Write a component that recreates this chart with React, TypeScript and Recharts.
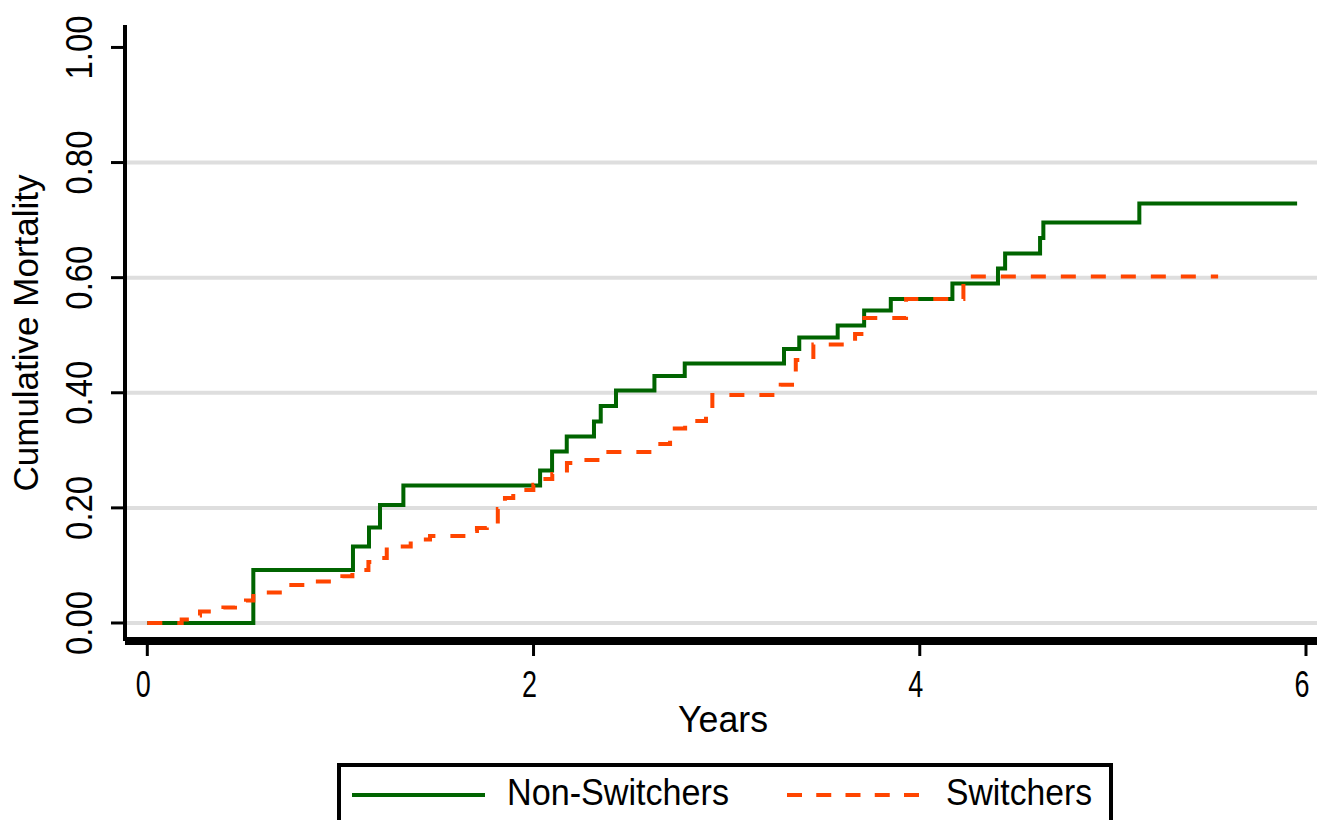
import { LineChart, Line, XAxis, YAxis, CartesianGrid } from "recharts"

const FONT = "'Liberation Sans', Arial, sans-serif"
const GREEN = "#006400"
const ORANGE = "#ff4500"

// Non-Switchers: step times (years) and cumulative mortality
const nonSwitchersYears = [
  0, 0.549, 1.065, 1.148, 1.205, 1.326, 2.034, 2.096, 2.172, 2.313, 2.348, 2.427, 2.626,
  2.783, 3.297, 3.376, 3.575, 3.712, 3.85, 4.169, 4.405, 4.442, 4.623, 4.64, 5.137, 5.954,
]
const nonSwitchersMortality = [
  0, 0.092, 0.133, 0.166, 0.205, 0.239, 0.265, 0.298, 0.324, 0.35, 0.377, 0.404, 0.429,
  0.451, 0.476, 0.496, 0.517, 0.543, 0.563, 0.59, 0.616, 0.642, 0.669, 0.696, 0.729, 0.729,
]

// Switchers
const switchersYears = [
  0, 0.178, 0.221, 0.273, 0.394, 0.454, 0.511, 0.549, 0.712, 0.87, 1.01, 1.062, 1.145, 1.188,
  1.24, 1.364, 1.464, 1.659, 1.707, 1.758, 1.815, 1.852, 1.895, 1.946, 1.999, 2.049, 2.097,
  2.173, 2.241, 2.344, 2.64, 2.707, 2.785, 2.893, 2.926, 3.28, 3.358, 3.449, 3.665, 3.713,
  3.929, 4.226, 5.545,
]
const switchersMortality = [
  0, 0.006, 0.013, 0.02, 0.027, 0.033, 0.039, 0.053, 0.066, 0.072, 0.081, 0.092, 0.106, 0.113,
  0.133, 0.145, 0.151, 0.16, 0.165, 0.172, 0.198, 0.217, 0.226, 0.231, 0.24, 0.25, 0.259,
  0.278, 0.283, 0.297, 0.311, 0.338, 0.351, 0.363, 0.396, 0.414, 0.457, 0.484, 0.502, 0.53,
  0.563, 0.602, 0.602,
]

const xTicks = [0, 2, 4, 6]
const yTicks = [0, 0.2, 0.4, 0.6, 0.8, 1.0]
const gridValues = [0, 0.2, 0.4, 0.6, 0.8]

const nonSwitchersData = nonSwitchersYears.map((x, i) => ({ x, y: nonSwitchersMortality[i] }))
const switchersData = switchersYears.map((x, i) => ({ x, y: switchersMortality[i] }))

const X_DOMAIN: [number, number] = [-0.1155, 6.057]
const Y_DOMAIN: [number, number] = [-0.0313, 1.039]

const XTick = (props: any) => {
  const { x, y, payload } = props
  return (
    <text x={x - 4} y={y + 41} textAnchor="middle" fontFamily={FONT} fontSize={37} fill="#000"
      textLength={15} lengthAdjust="spacingAndGlyphs">
      {payload.value}
    </text>
  )
}

const YTick = (props: any) => {
  const { x, y, payload } = props
  return (
    <text transform={`translate(${x - 19},${y}) rotate(-90)`} textAnchor="middle" fontFamily={FONT}
      fontSize={37} fill="#000" textLength={64} lengthAdjust="spacingAndGlyphs">
      {Number(payload.value).toFixed(2)}
    </text>
  )
}

const YTitle = (props: any) => {
  const vb = props.viewBox
  return (
    <text transform={`translate(38,${vb.y + vb.height / 2}) rotate(-90)`} textAnchor="middle"
      fontFamily={FONT} fontSize={35} fill="#000" textLength={317} lengthAdjust="spacingAndGlyphs">
      Cumulative Mortality
    </text>
  )
}

const XTitle = (props: any) => {
  const vb = props.viewBox
  return (
    <text x={vb.x + vb.width / 2 + 2} y={vb.y + 91} textAnchor="middle" fontFamily={FONT}
      fontSize={37} fill="#000" textLength={90} lengthAdjust="spacingAndGlyphs">
      Years
    </text>
  )
}

function KMLegend() {
  return (
    <svg width={1317} height={820} style={{ position: "absolute", left: 0, top: 0, pointerEvents: "none" }}>
      <rect x={339} y={765} width={772} height={80} fill="#fff" stroke="#000" strokeWidth={4} />
      <line x1={352} x2={485} y1={795} y2={795} stroke={GREEN} strokeWidth={4} />
      <text x={507} y={805} fontFamily={FONT} fontSize={37} fill="#000" textLength={222}
        lengthAdjust="spacingAndGlyphs">Non-Switchers</text>
      <line x1={787} x2={919} y1={795} y2={795} stroke={ORANGE} strokeWidth={4} strokeDasharray="15 14.25" />
      <text x={946} y={805} fontFamily={FONT} fontSize={37} fill="#000" textLength={146}
        lengthAdjust="spacingAndGlyphs">Switchers</text>
    </svg>
  )
}

export default function App() {
  return (
    <div style={{ position: "absolute", left: 0, top: 0, width: 1317, height: 820, background: "#fff", overflow: "hidden" }}>
      <LineChart width={1317} height={820} margin={{ top: 25, right: 0, left: 0, bottom: 79 }}>
        <CartesianGrid horizontalValues={gridValues} vertical={false} stroke="#dedede" strokeWidth={4} />
        <XAxis dataKey="x" type="number" domain={X_DOMAIN} ticks={xTicks} allowDataOverflow
          height={100} tickSize={15} tickMargin={0} tick={<XTick />}
          axisLine={{ stroke: "#000", strokeWidth: 8 }} tickLine={{ stroke: "#000", strokeWidth: 3 }}
          label={<XTitle />} />
        <XAxis xAxisId="top" orientation="top" dataKey="x" type="number" domain={X_DOMAIN} allowDataOverflow
          height={0} tick={false} tickLine={false} axisLine={{ stroke: "#000", strokeWidth: 4 }} />
        <YAxis type="number" domain={Y_DOMAIN} ticks={yTicks} allowDataOverflow width={125}
          tickSize={14} tickMargin={0} tick={<YTick />}
          axisLine={{ stroke: "#000", strokeWidth: 4 }} tickLine={{ stroke: "#000", strokeWidth: 3 }}
          label={<YTitle />} />
        <Line data={nonSwitchersData} dataKey="y" type="stepAfter" stroke={GREEN} strokeWidth={4}
          dot={false} activeDot={false} isAnimationActive={false} />
        <Line data={switchersData} dataKey="y" type="stepAfter" stroke={ORANGE} strokeWidth={4}
          strokeDasharray="15 15" dot={false} activeDot={false} isAnimationActive={false} />
      </LineChart>
      <KMLegend />
    </div>
  )
}
